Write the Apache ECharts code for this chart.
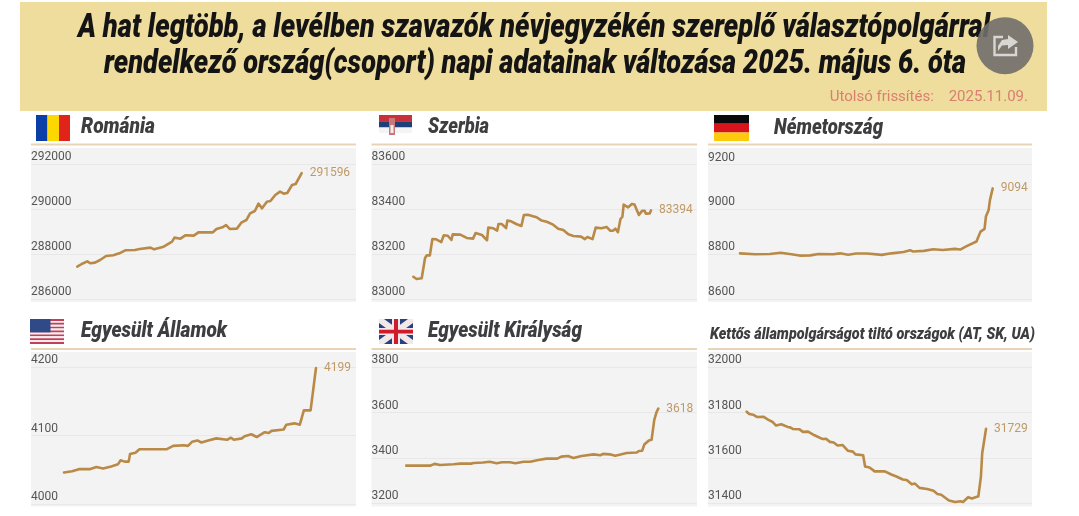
<!DOCTYPE html>
<html><head><meta charset="utf-8">
<style>html,body{margin:0;padding:0;background:#fff}#c{width:1079px;height:516px}</style>
<script src="https://cdn.jsdelivr.net/npm/echarts@6/dist/echarts.min.js"></script>
</head><body><div id="c"></div>
<script>
const headline = ['A hat legtöbb, a levélben szavazók névjegyzékén szereplő választópolgárral','rendelkező ország(csoport) napi adatainak változása 2025. május 6. óta'];
const updated = 'Utolsó frissítés:    2025.11.09.';
const names = ['Románia','Szerbia','Németország','Egyesült Államok','Egyesült Királyság','Kettős állampolgárságot tiltó országok (AT, SK, UA)'];

const romania = [[0,287448],[3.6,287566],[8.3,287684],[11,287596],[14.7,287625],[19,287743],[24,287921],[30,287950],[35,288039],[40,288172],[48,288187],[52,288231],[61,288290],[64,288216],[72,288335],[79,288556],[81,288734],[86,288689],[90,288837],[97,288822],[101,288970],[113,288970],[116,289118],[121,289192],[124,289295],[127,289118],[133,289133],[137,289414],[141,289517],[144,289813],[148,289916],[151,290241],[154,290034],[158,290330],[161,290359],[165,290625],[169,290773],[172,290685],[175,290714],[179,291069],[182,291113],[187,291596]];
const serbia = [[0,83100],[2.6,83090],[6.6,83093],[9.2,83182],[10.5,83195],[13,83194],[15,83267],[18,83266],[22,83254],[24,83284],[27,83282],[30,83263],[31,83288],[37,83287],[42,83272],[47,83269],[49,83294],[54,83285],[58,83262],[59,83318],[63,83315],[66,83305],[67,83334],[69.5,83334],[73,83316],[74,83349],[77,83346],[81,83334],[85,83325],[87,83374],[90,83375],[97,83364],[101,83349],[105,83344],[110,83331],[114,83313],[118,83307],[122,83288],[126,83281],[127,83287],[132,83278],[135,83267],[137,83276],[141,83267],[143.5,83318],[148,83315],[149.5,83322],[152,83321],[155,83304],[157,83304],[159,83313],[161,83298],[163,83356],[164.5,83366],[165.5,83420],[169,83408],[172,83423],[174,83420],[177.5,83374],[180,83393],[182,83392],[183,83380],[186,83381],[187,83394]];
const germany = [[0,8804],[11,8800],[22,8801],[30,8807],[38,8800],[44,8794],[52,8795],[58,8801],[69,8800],[74,8804],[80,8798],[86,8803],[94,8803],[105,8797],[112,8804],[121,8810],[126,8818],[128,8812],[136,8815],[143,8822],[150,8819],[159,8824],[163,8821],[167,8834],[175,8857],[178,8901],[181,8913],[182,8969],[184,8998],[185,9043],[187,9094]];
const usa = [[0,4046],[6,4048],[11,4051],[19,4051],[24,4054],[29,4052],[35,4055],[40,4058],[42,4064],[45,4062],[48,4062],[49,4073],[53,4075],[56,4080],[76,4080],[81,4085],[89,4086],[92,4085],[95,4091],[99,4093],[102,4090],[107,4093],[113,4096],[121,4094],[124,4097],[126,4094],[132,4096],[134,4099],[139,4102],[143,4098],[149,4105],[152,4104],[154,4107],[163,4109],[165,4116],[171,4118],[175,4116],[178,4137],[183,4137],[187,4199]];
const uk = [[0,3366],[17.6,3366],[21,3374],[25,3369],[35,3372],[40,3375],[48,3375],[50,3378],[57,3380],[62,3383],[67,3377],[71,3381],[77,3381],[81,3377],[87,3383],[92,3383],[98,3391],[104,3397],[112,3397],[115,3406],[120,3409],[124,3400],[130,3409],[139,3416],[144,3412],[146,3418],[151,3416],[155,3410],[159,3415],[163.5,3422],[171,3424],[172.6,3431],[175,3432],[176.6,3459],[180,3477],[182,3480],[184,3568],[185.8,3604],[187,3618]];
const banning = [[0,31804],[2,31794],[5,31791],[8,31781],[13,31782],[17,31768],[20,31760],[23,31743],[27,31749],[32,31737],[34,31735],[36,31728],[41,31727],[44,31715],[48,31716],[53,31700],[59,31684],[62,31685],[65,31671],[68,31668],[71,31655],[75,31657],[79,31632],[83,31628],[85,31616],[91,31612],[92.5,31562],[96,31558],[100,31541],[108,31541],[113,31527],[117,31518],[122,31505],[125,31503],[129,31484],[131.5,31487],[135,31468],[141,31463],[146,31455],[149,31441],[152,31438],[158,31412],[163,31406],[167,31409],[169,31406],[173,31427],[176,31421],[181,31431],[183,31518],[184,31621],[187,31729]];
const seriesData = [romania, serbia, germany, usa, uk, banning];
const yTicks = [[286000,292000,2000],[83000,83600,200],[8600,9200,200],[4000,4200,100],[3200,3800,200],[31400,32000,200]];
const xRanges = [[-38.6,232.3],[-32.9,223.2],[-23.7,216.1],[-24.5,216.7],[-25.8,215.7],[-30.2,222.9]];

// layout: plot box, grid top/bottom, title position, size and fitted width
const boxes = [
 {l:31,r:356,bt:148,bb:302,gt:164,gb:299.3,tx:81,ty:127.5,fs:22,tw:74,rule:144.5},
 {l:371.5,r:697,bt:148,bb:302,gt:164,gb:299.3,tx:428,ty:127.5,fs:22,tw:61,rule:144.5},
 {l:708,r:1032,bt:148,bb:302,gt:164.7,gb:299,tx:774,ty:128,fs:22,tw:109,rule:144.5},
 {l:31,r:356,bt:352,bb:506.5,gt:367.3,gb:504,tx:81,ty:331,fs:22,tw:146,rule:349},
 {l:371.5,r:697,bt:352,bb:506.5,gt:367.3,gb:503.3,tx:428,ty:331,fs:22,tw:154,rule:349},
 {l:708,r:1032,bt:352,bb:506.5,gt:367.3,gb:503.3,tx:710,ty:335,fs:17,tw:325,rule:349}
];
const LINE='#b98a47', LABEL='#c09a66', TITLE='#3e3e40';
const TFONT='Roboto';

const rect=(x,y,w,h,fill,z)=>({type:'rect',shape:{x,y,width:w,height:h},style:{fill},z:z===undefined?1:z,silent:true});
const measure=document.createElement('canvas').getContext('2d');
// text squeezed horizontally to the measured width of the reference headings
function fitted(text,x,y,size,target,color,z){
  measure.font='italic 900 '+size+'px '+TFONT;
  const w=measure.measureText(text).width;
  return {type:'text',x,y,scaleX:target/w,scaleY:1,z:z||3,silent:true,
    style:{text,fontFamily:TFONT,fontStyle:'italic',fontWeight:900,fontSize:size,fill:color,textAlign:'left',textVerticalAlign:'middle'}};
}
const graphics=[];
graphics.push(rect(20,2,1027,109,'#eedd9c',-2));
boxes.forEach(b=>{
  graphics.push(rect(b.l,b.bt,b.r-b.l,b.bb-b.bt,'#f3f3f3',-2));
  graphics.push(rect(b.l,b.rule-1,b.r-b.l,2,'#e9d3b6',-2));
});
graphics.push(fitted(headline[0],78,29,33,912,'#141414'));
graphics.push(fitted(headline[1],104,65,33,862,'#141414'));
names.forEach((n,i)=>graphics.push(fitted(n,boxes[i].tx,boxes[i].ty,boxes[i].fs,boxes[i].tw,TITLE)));
// flags
graphics.push(rect(36,115,11.5,26,'#0b3ea6'),rect(47.5,115,11.5,26,'#fcd700'),rect(59,115,11,26,'#e2231a'));
graphics.push(rect(379,115,33,6.2,'#c8303c'),rect(379,121.2,33,6.2,'#1f3f78'),rect(379,127.4,33,5.6,'#f4f4f4'));
graphics.push(rect(389,118,6,17,'#c9787a',2),rect(390.5,125,3,8,'#eee',2));
graphics.push(rect(714,115,35,8.7,'#0a0a0a'),rect(714,123.7,35,8.7,'#d8141c'),rect(714,132.4,35,8.6,'#fbcb0c'));
for(let i=0;i<13;i++) graphics.push(rect(30,319+i*25/13,34,25/13,i%2?'#f3eef0':'#c2405a'));
graphics.push(rect(30,319,20.5,13.4,'#2f4a86',2));
graphics.push(rect(379,319,34,25,'#26427f'));
graphics.push({type:'polygon',shape:{points:[[379,319],[384,319],[413,340],[413,344],[408,344],[379,323]]},style:{fill:'#f2e8ea'},z:2,silent:true});
graphics.push({type:'polygon',shape:{points:[[413,319],[408,319],[379,340],[379,344],[384,344],[413,323]]},style:{fill:'#f2e8ea'},z:2,silent:true});
graphics.push(rect(379,328,34,7,'#f2e8ea',3),rect(392,319,8,25,'#f2e8ea',3),rect(379,329.8,34,3.6,'#cf1b2b',4),rect(394,319,4,25,'#cf1b2b',4));
// share button
graphics.push({type:'circle',shape:{cx:1005,cy:45.7,r:28.5},style:{fill:'rgba(112,110,108,0.9)'},z:20,silent:true});
graphics.push({type:'polyline',shape:{points:[[1003,37],[994.5,37],[994.5,55],[1016,55],[1016,47]]},style:{stroke:'#d8d6d2',lineWidth:2.4,fill:'none'},z:21,silent:true});
graphics.push({type:'polygon',shape:{points:[[1008,35],[1018,42],[1008,49],[1008,45],[1002,45.5],[998,51],[998,46],[1002,40],[1008,39]]},style:{fill:'#d8d6d2'},z:21,silent:true});

const titles=[{text:updated,right:46,top:85,textStyle:{fontFamily:'Roboto',fontWeight:'normal',fontSize:15,color:'#d97f70'}}];

const grid=[],xAxis=[],yAxis=[],series=[];
boxes.forEach((b,i)=>{
  grid.push({left:b.l,width:b.r-b.l,top:b.gt,height:b.gb-b.gt,containLabel:false});
  xAxis.push({gridIndex:i,type:'value',min:xRanges[i][0],max:xRanges[i][1],show:false,splitLine:{show:false}});
  yAxis.push({gridIndex:i,type:'value',min:yTicks[i][0],max:yTicks[i][1],interval:yTicks[i][2],z:2,
    axisLine:{show:false},axisTick:{show:false},
    splitLine:{show:true,lineStyle:{color:'#e8e8e8',width:1}},
    axisLabel:{inside:true,margin:0,verticalAlign:'bottom',showMinLabel:true,showMaxLabel:true,hideOverlap:false,
      formatter:v=>String(v),fontFamily:'Roboto',fontSize:12,color:'#555',lineHeight:14}});
  series.push({type:'line',xAxisIndex:i,yAxisIndex:i,data:seriesData[i],showSymbol:false,smooth:false,clip:false,
    lineStyle:{color:LINE,width:2.6,cap:'round',join:'round'},itemStyle:{color:LINE},
    endLabel:{show:true,distance:8,formatter:p=>String(p.value[1]),fontFamily:'Roboto',fontSize:12,color:LABEL},
    emphasis:{disabled:true},silent:true,z:5});
});

const chart=echarts.init(document.getElementById('c'),null,{renderer:'canvas'});
chart.setOption({animation:false,backgroundColor:'#fff',title:titles,grid,xAxis,yAxis,series,graphic:{elements:graphics},tooltip:{show:false},legend:{show:false}});
</script></body></html>
